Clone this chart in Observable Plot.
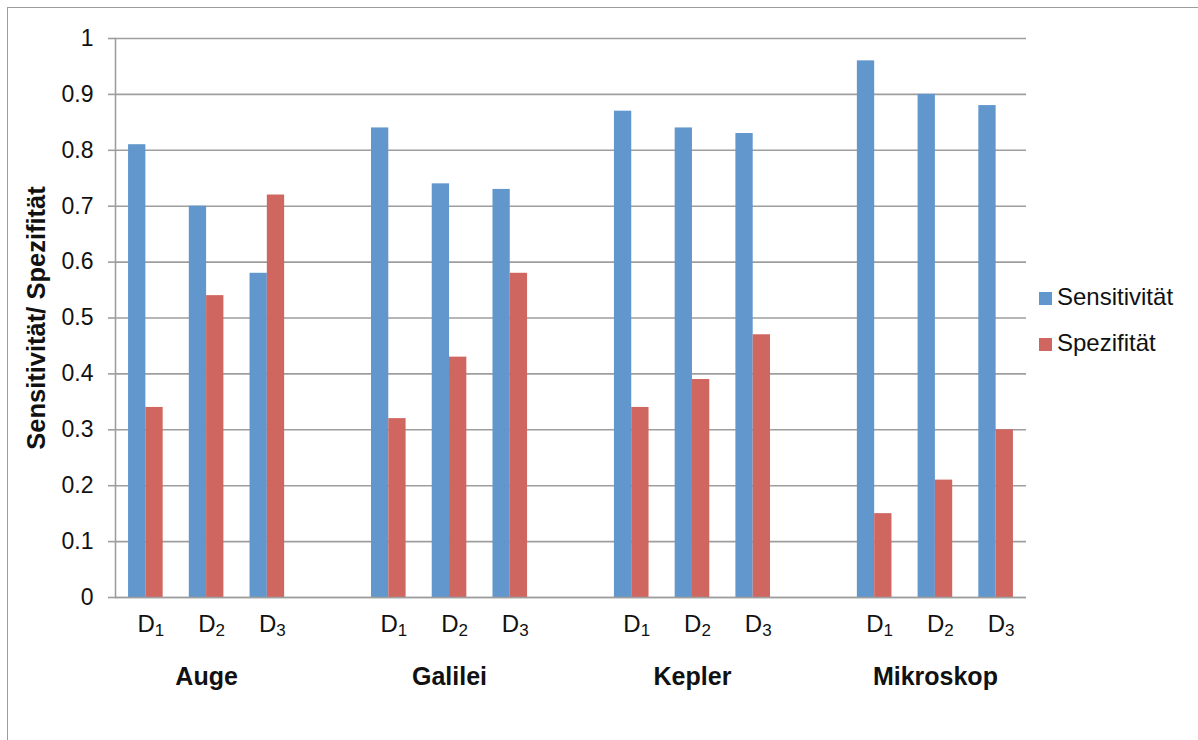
<!DOCTYPE html>
<html>
<head>
<meta charset="utf-8">
<script src="https://cdn.jsdelivr.net/npm/d3@7"></script>
<script src="https://cdn.jsdelivr.net/npm/@observablehq/plot@0.6"></script>
<style>
  body { margin: 0; background: #fff; font-family: "Liberation Sans", Arial, sans-serif; }
  #wrap { position: relative; width: 1198px; height: 740px; overflow: hidden; }
  #border { position: absolute; left: 7px; top: 7px; width: 1400px; height: 900px; border: 1.5px solid #9c9c9c; box-sizing: border-box; }
  #chart { position: absolute; left: 0; top: 0; }
  .legend { position: absolute; left: 1039px; font-size: 24px; color: #111; }
  .legend .sw { position: absolute; left: 0; width: 13px; height: 13px; }
  .legend .lb { position: absolute; left: 18px; white-space: nowrap; }
</style>
</head>
<body>
<div id="wrap">
  <div id="border"></div>
  <div id="chart"></div>
  <div id="legend"></div>
</div>
<script>
// ---- data ----
const groups = ["Auge", "Galilei", "Kepler", "Mikroskop"];
const methods = ["D1", "D2", "D3"];
const seriesNames = ["Sensitivität", "Spezifität"];
const seriesColors = ["#6197CC", "#CF6660"];
const sensitivitaet = [0.81, 0.70, 0.58, 0.84, 0.74, 0.73, 0.87, 0.84, 0.83, 0.96, 0.90, 0.88];
const spezifitaet   = [0.34, 0.54, 0.72, 0.32, 0.43, 0.58, 0.34, 0.39, 0.47, 0.15, 0.21, 0.30];
const yTicks = [0, 0.1, 0.2, 0.3, 0.4, 0.5, 0.6, 0.7, 0.8, 0.9, 1];

// slots: each group has its three methods followed by an empty gap slot (none after the last)
const slots = [];
groups.forEach((g, gi) => {
  methods.forEach(m => slots.push(g + "|" + m));
  if (gi < groups.length - 1) slots.push(g + "|gap");
});

const rows = [];
groups.forEach((g, gi) => methods.forEach((m, mi) => {
  const i = gi * methods.length + mi;
  rows.push({slot: g + "|" + m, series: seriesNames[0], value: sensitivitaet[i]});
  rows.push({slot: g + "|" + m, series: seriesNames[1], value: spezifitaet[i]});
}));

const W = 1198, H = 740;
const mL = 115, mR = 172, mT = 38, mB = 143;
const step = (W - mL - mR) / slots.length;
const barW = 17.3;
const pInner = 1 - barW / step;

const gridColor = "#9e9e9e";

const chart = Plot.plot({
  width: W, height: H,
  marginLeft: mL, marginRight: mR, marginTop: mT, marginBottom: mB,
  style: {fontFamily: "'Liberation Sans', Arial, sans-serif", color: "#111", background: "transparent"},
  x: {domain: slots, paddingInner: pInner, paddingOuter: pInner / 2, align: 0.5, round: false, axis: null},
  y: {domain: [0, 1], axis: null},
  marks: [
    Plot.gridY(yTicks, {stroke: gridColor, strokeOpacity: 1, strokeWidth: 1.6}),
    Plot.barY(rows.filter(d => d.series === seriesNames[0]), {x: "slot", y: "value", fill: seriesColors[0], dx: -barW / 2}),
    Plot.barY(rows.filter(d => d.series === seriesNames[1]), {x: "slot", y: "value", fill: seriesColors[1], dx: barW / 2}),
    Plot.frame({anchor: "left", stroke: gridColor, strokeWidth: 1.6}),
    Plot.ruleY([0], {stroke: gridColor, strokeWidth: 1.6}),
    Plot.axisY({
      ticks: yTicks, tickSize: 7, tickPadding: 15, fontSize: 23,
      stroke: gridColor, strokeWidth: 1.6, label: null,
      tickFormat: d => String(+d.toFixed(1))
    }),
    Plot.axisX({
      ticks: slots.filter(s => !s.endsWith("gap")),
      tickSize: 0, tickPadding: 17, fontSize: 24, label: null, dx: 5,
      tickFormat: s => s.split("|")[1]
    }),
    Plot.axisX({
      ticks: groups.map(g => g + "|" + methods[1]),
      tickSize: 0, tickPadding: 70, fontSize: 25, fontWeight: "bold", label: null,
      tickFormat: s => s.split("|")[0]
    }),
    Plot.text(["Sensitivität/ Spezifität"], {
      frameAnchor: "left", textAnchor: "middle", rotate: -90, dx: -79,
      fontSize: 25.5, fontWeight: "bold", fill: "#111"
    })
  ]
});
document.getElementById("chart").appendChild(chart);

// subscripts for D1, D2, D3
d3.select(chart).selectAll("text").each(function () {
  const t = this.textContent;
  if (/^D\d$/.test(t)) {
    const sel = d3.select(this);
    sel.text("D");
    sel.append("tspan").attr("font-size", 17).attr("dy", "0.25em").text(t.slice(1));
  }
});

// legend
const leg = document.getElementById("legend");
const legendTops = [292, 338];
seriesNames.forEach((name, i) => {
  const item = document.createElement("div");
  item.className = "legend";
  item.style.top = legendTops[i] + "px";
  item.innerHTML = `<div class="sw" style="background:${seriesColors[i]};top:0"></div><div class="lb" style="top:-9px">${name}</div>`;
  leg.appendChild(item);
});
</script>
</body>
</html>
